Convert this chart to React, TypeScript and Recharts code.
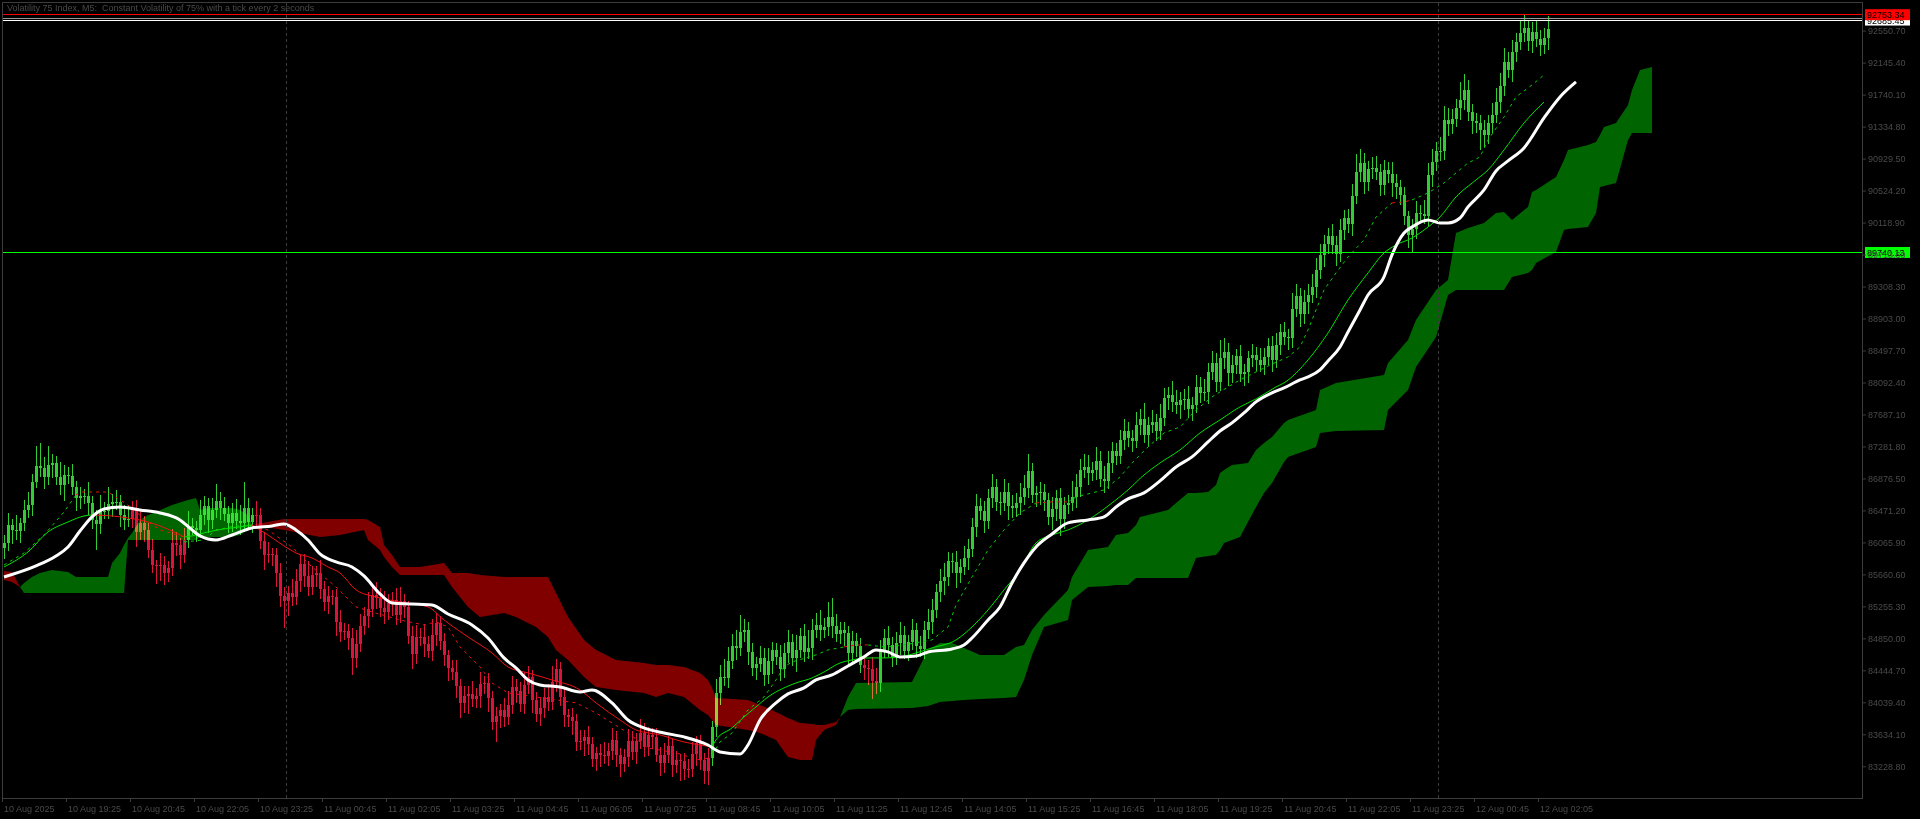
import React from "react";
import { Area, Bar, ComposedChart, Line, ReferenceLine, XAxis, YAxis } from "recharts";

// Volatility 75 Index, M5.
// x is the bar number (0 = 10 Aug 18:05), prices in index points.

const timeTickBars = [0, 16, 32, 48, 64, 80, 96, 112, 128, 144, 160, 176, 192, 208, 224, 240, 256, 272, 288, 304, 320, 336, 352, 368, 384];
const timeTickLabels = [
  "10 Aug 2025", "10 Aug 19:25", "10 Aug 20:45", "10 Aug 22:05", "10 Aug 23:25",
  "11 Aug 00:45", "11 Aug 02:05", "11 Aug 03:25", "11 Aug 04:45", "11 Aug 06:05",
  "11 Aug 07:25", "11 Aug 08:45", "11 Aug 10:05", "11 Aug 11:25", "11 Aug 12:45",
  "11 Aug 14:05", "11 Aug 15:25", "11 Aug 16:45", "11 Aug 18:05", "11 Aug 19:25",
  "11 Aug 20:45", "11 Aug 22:05", "11 Aug 23:25", "12 Aug 00:45", "12 Aug 02:05",
];
const priceTicks = [
  83228.8, 83634.1, 84039.4, 84444.7, 84850.0, 85255.3, 85660.6, 86065.9, 86471.2, 86876.5, 87281.8, 87687.1,
  88092.4, 88497.7, 88903.0, 89308.3, 89713.6, 90118.9, 90524.2, 90929.5, 91334.8, 91740.1, 92145.4, 92550.7,
];

const firstOpen = 85990;
const closes = [
  86059, 86284, 86222, 86210, 86306, 86479, 86536, 86829, 87031, 87004, 86899, 87052, 87074, 86901, 86793, 86918, 86912, 86771, 86623, 86649,
  86656, 86559, 86352, 86302, 86461, 86469, 86554, 86575, 86582, 86409, 86347, 86361, 86489, 86194, 86312, 86217, 85976, 85779, 85772, 85779,
  85677, 85739, 86062, 86028, 85900, 86099, 86270, 86252, 86225, 86419, 86529, 86346, 86474, 86592, 86497, 86430, 86312, 86433, 86331, 86309,
  86499, 86321, 86408, 86412, 86089, 85910, 85922, 85900, 85677, 85392, 85319, 85427, 85376, 85582, 85789, 85634, 85500, 85656, 85682, 85474,
  85305, 85387, 85368, 85054, 84933, 84939, 84857, 84605, 84781, 85008, 85132, 85219, 85397, 85358, 85234, 85179, 85304, 85338, 85152, 85318,
  85252, 84878, 84651, 84870, 84867, 84780, 84695, 84898, 85039, 84812, 84633, 84472, 84425, 84250, 84033, 84120, 84142, 84078, 84117, 84275,
  84279, 84088, 83795, 83867, 83945, 83858, 84001, 84238, 84187, 84018, 84257, 84355, 84068, 83887, 83973, 84107, 84040, 84295, 84463, 84108,
  83881, 83857, 83800, 83538, 83555, 83594, 83505, 83326, 83398, 83372, 83358, 83418, 83566, 83368, 83258, 83350, 83546, 83414, 83545, 83653,
  83475, 83623, 83604, 83378, 83273, 83378, 83488, 83240, 83312, 83293, 83191, 83194, 83385, 83518, 83310, 83166, 83332, 83728, 84159, 84363,
  84352, 84569, 84750, 84727, 84928, 84960, 84683, 84477, 84528, 84604, 84380, 84559, 84697, 84610, 84462, 84665, 84803, 84600, 84708, 84877,
  84683, 84730, 84959, 85014, 84952, 84992, 85125, 85008, 84910, 84952, 84920, 84663, 84817, 84750, 84517, 84476, 84460, 84310, 84280, 84703,
  84857, 84765, 84619, 84797, 84892, 84691, 84807, 84950, 84747, 84715, 84954, 85058, 85214, 85440, 85574, 85624, 85830, 85822, 85682, 85760,
  85866, 85984, 86264, 86524, 86463, 86332, 86634, 86767, 86574, 86563, 86706, 86521, 86504, 86565, 86642, 86754, 86973, 86671, 86687, 86699,
  86599, 86393, 86492, 86628, 86364, 86537, 86569, 86647, 86767, 86989, 87018, 86944, 86981, 87099, 86873, 86846, 87078, 87226, 87162, 87361,
  87484, 87385, 87356, 87556, 87631, 87431, 87549, 87596, 87476, 87644, 87896, 87928, 87851, 87806, 87873, 87880, 87758, 87804, 88036, 87962,
  87971, 88228, 88336, 88100, 88408, 88479, 88215, 88311, 88422, 88196, 88222, 88403, 88445, 88383, 88319, 88418, 88554, 88376, 88565, 88726,
  88675, 88658, 89026, 89185, 88961, 89109, 89205, 89298, 89518, 89712, 89847, 89955, 89833, 89722, 90030, 90179, 90097, 90456, 90761, 90871,
  90633, 90801, 90805, 90756, 90600, 90786, 90734, 90619, 90567, 90473, 90196, 89961, 90040, 90237, 90224, 90199, 90719, 90888, 91028, 91024,
  91416, 91365, 91434, 91575, 91673, 91801, 91522, 91401, 91386, 91292, 91228, 91378, 91483, 91653, 91854, 92154, 92056, 92283, 92408, 92522,
  92585, 92418, 92531, 92446, 92365, 92453, 92573,
];
const upWicks = [
  100, 150, 80, 190, 70, 130, 170, 110, 260, 300, 140, 230, 110, 90, 180, 130, 100, 150, 70, 120,
  90, 170, 100, 130, 200, 110, 210, 100, 150, 80, 130, 180, 100, 120, 160, 90, 100, 130, 70, 150,
  110, 90, 170, 130, 100, 150, 200, 110, 90, 180, 130, 100, 160, 220, 110, 150, 100, 130, 180, 210,
  330, 130, 100, 180, 90, 110, 150, 70, 100, 130, 110, 90, 170, 150, 100, 130, 200, 110, 90, 160,
  100, 130, 70, 110, 150, 100, 90, 130, 180, 150, 110, 220, 100, 170, 130, 210, 110, 100, 150, 180,
  100, 70, 130, 150, 110, 170, 100, 200, 130, 90, 100, 70, 110, 150, 90, 130, 100, 170, 110, 150,
  100, 130, 90, 110, 70, 150, 180, 130, 100, 110, 170, 150, 90, 100, 130, 110, 160, 200, 130, 90,
  100, 70, 110, 90, 130, 100, 150, 90, 70, 110, 170, 100, 150, 110, 90, 100, 160, 130, 110, 180,
  130, 100, 90, 110, 100, 150, 130, 90, 110, 70, 100, 130, 150, 100, 110, 90, 130, 70, 180, 150,
  220, 170, 150, 200, 220, 130, 100, 110, 90, 150, 130, 170, 110, 100, 160, 130, 150, 100, 180, 110,
  150, 220, 130, 160, 200, 110, 180, 240, 150, 100, 110, 90, 130, 100, 110, 90, 100, 150, 170, 130,
  110, 150, 100, 130, 160, 110, 90, 150, 100, 130, 110, 170, 130, 100, 150, 180, 110, 100, 130, 90,
  150, 130, 110, 160, 100, 130, 110, 170, 100, 130, 160, 110, 150, 130, 180, 170, 210, 100, 90, 130,
  110, 90, 150, 100, 130, 110, 100, 200, 160, 130, 170, 150, 110, 180, 130, 160, 150, 110, 100, 130,
  150, 110, 100, 160, 130, 200, 110, 150, 100, 170, 130, 110, 180, 150, 100, 130, 170, 110, 150, 130,
  160, 110, 150, 130, 220, 180, 110, 130, 100, 150, 110, 90, 130, 100, 150, 110, 100, 130, 150, 110,
  130, 100, 200, 150, 110, 160, 130, 170, 150, 130, 110, 100, 150, 110, 130, 100, 110, 150, 230, 180,
  130, 100, 150, 160, 110, 130, 100, 150, 110, 90, 100, 70, 130, 150, 110, 180, 150, 160, 110, 170,
  180, 150, 130, 110, 230, 200, 130, 100, 110, 90, 130, 100, 150, 170, 160, 180, 130, 150, 110, 160,
  165, 90, 130, 150, 110, 130, 165,
];
const downWicks = [
  130, 100, 170, 110, 150, 90, 100, 130, 70, 110, 150, 100, 170, 110, 130, 200, 100, 110, 160, 130,
  100, 150, 110, 330, 130, 100, 110, 170, 100, 150, 130, 90, 110, 190, 100, 150, 110, 100, 230, 200,
  150, 110, 100, 130, 170, 100, 110, 90, 150, 100, 130, 160, 110, 100, 150, 90, 130, 110, 100, 150,
  110, 100, 130, 150, 110, 190, 100, 130, 170, 150, 340, 190, 110, 100, 150, 130, 110, 100, 160, 130,
  110, 150, 100, 170, 130, 110, 150, 220, 130, 100, 110, 150, 100, 130, 110, 150, 100, 170, 130, 110,
  150, 100, 190, 130, 110, 160, 100, 130, 150, 110, 130, 160, 100, 150, 190, 130, 230, 100, 110, 150,
  130, 170, 110, 260, 150, 130, 100, 110, 150, 100, 130, 110, 160, 100, 150, 130, 110, 100, 130, 110,
  150, 130, 170, 110, 100, 200, 130, 110, 160, 150, 100, 130, 110, 150, 170, 100, 130, 110, 150, 100,
  130, 110, 150, 100, 170, 130, 110, 150, 100, 250, 130, 110, 100, 150, 130, 160, 170, 100, 130, 150,
  100, 130, 110, 150, 100, 130, 170, 110, 150, 100, 130, 110, 160, 100, 150, 110, 130, 100, 170, 110,
  130, 100, 150, 110, 130, 100, 110, 150, 100, 130, 170, 150, 110, 130, 100, 150, 200, 230, 130, 110,
  100, 150, 130, 110, 160, 100, 130, 110, 150, 100, 130, 110, 150, 100, 130, 170, 110, 150, 190, 130,
  110, 150, 100, 130, 110, 150, 100, 130, 110, 150, 100, 170, 130, 110, 150, 100, 130, 110, 160, 150,
  130, 110, 170, 150, 220, 130, 110, 100, 150, 130, 110, 150, 100, 130, 110, 150, 100, 130, 110, 100,
  130, 110, 150, 100, 130, 110, 150, 100, 130, 110, 100, 150, 130, 110, 170, 130, 110, 150, 100, 130,
  110, 150, 100, 130, 110, 150, 170, 130, 110, 100, 150, 130, 110, 150, 100, 130, 110, 150, 100, 130,
  110, 150, 130, 110, 170, 130, 150, 100, 130, 110, 150, 130, 110, 150, 100, 130, 110, 150, 100, 130,
  150, 110, 130, 100, 150, 130, 110, 170, 150, 130, 110, 160, 230, 130, 110, 100, 130, 150, 110, 130,
  110, 150, 130, 100, 150, 130, 110, 160, 130, 250, 150, 110, 130, 100, 150, 130, 110, 150, 130, 100,
  110, 130, 150, 100, 130, 110, 150,
];
// bar ranges whose candles are painted in the bearish colour (trend colouring)
const bearRanges = [
  [32, 45],
  [63, 176],
  [215, 218],
];

// thick white moving average [bar, price]
const slowMa = [
  [0, 85628], [8, 85768], [13, 85894], [16, 86008], [19, 86210], [22, 86390], [25, 86490], [29, 86515], [34, 86477],
  [39, 86439], [44, 86351], [47, 86224], [49, 86148], [53, 86097], [57, 86160], [62, 86249], [67, 86275], [70, 86300],
  [73, 86224], [76, 86097], [79, 85920], [83, 85818], [87, 85755], [90, 85641], [94, 85413], [97, 85299], [102, 85286],
  [107, 85273], [111, 85159], [117, 85020], [121, 84855], [125, 84602], [128, 84475], [131, 84323], [134, 84260],
  [139, 84234], [144, 84171], [147, 84196], [152, 84032], [156, 83816], [160, 83715], [165, 83651], [170, 83601],
  [176, 83499], [179, 83411], [184, 83385], [186, 83499], [189, 83816], [193, 84032], [196, 84146], [200, 84222],
  [203, 84323], [207, 84386], [211, 84500], [215, 84615], [218, 84703], [221, 84678], [224, 84615], [228, 84627],
  [231, 84678], [237, 84716], [240, 84767], [242, 84855], [246, 85083], [249, 85248], [252, 85552], [255, 85806],
  [258, 86008], [262, 86173], [266, 86313], [271, 86351], [275, 86389], [278, 86515], [281, 86617], [285, 86693],
  [289, 86845], [293, 87022], [297, 87149], [301, 87339], [304, 87478], [307, 87580], [310, 87706], [313, 87846],
  [317, 87960], [320, 88023], [324, 88125], [326, 88163], [329, 88251], [331, 88365], [334, 88543], [336, 88733],
  [339, 89012], [341, 89202], [345, 89430], [347, 89709], [350, 89987], [352, 90063], [356, 90152], [359, 90114],
  [361, 90114], [364, 90177], [366, 90317], [370, 90532], [373, 90773], [376, 90900], [380, 91065], [385, 91445],
  [389, 91711], [393, 91901],
];

// thin moving average, split where its colour flips
const fastMaUp = [
  [[0, 85755], [6, 85945], [11, 86199], [16, 86325], [20, 86401], [22, 86414]],
  [[45, 86135], [47, 86148], [51, 86199], [55, 86237], [59, 86262], [62, 86287]],
  [
    [177, 83474], [178, 83563], [182, 83715], [185, 83854], [188, 83981], [191, 84108], [195, 84222], [198, 84285],
    [202, 84348], [205, 84424], [209, 84538], [212, 84576], [216, 84602], [220, 84602], [224, 84615], [228, 84665],
    [232, 84729], [238, 84830], [242, 84995], [246, 85210], [250, 85464], [254, 85717], [258, 86059], [262, 86160],
    [266, 86224], [271, 86351], [277, 86566], [281, 86731], [285, 86921], [289, 87073], [294, 87238], [299, 87453],
    [304, 87618], [309, 87783], [313, 87884], [318, 88036], [320, 88087], [326, 88378], [331, 88720], [336, 89138],
    [341, 89481], [345, 89734], [348, 89835], [352, 89924], [356, 90063], [359, 90190], [363, 90444], [368, 90659],
    [371, 90786], [375, 91039], [380, 91381], [385, 91647],
  ],
];
const fastMaDown = [
  [[22, 86414], [27, 86401], [31, 86376], [35, 86338], [39, 86275], [43, 86186], [45, 86135]],
  [
    [62, 86287], [66, 86160], [70, 86021], [73, 85932], [77, 85869], [81, 85755], [84, 85679], [88, 85464],
    [93, 85375], [99, 85311], [106, 85248], [110, 85083], [116, 84868], [122, 84665], [126, 84488], [131, 84412],
    [137, 84323], [144, 84196], [148, 84032], [154, 83816], [158, 83689], [164, 83626], [170, 83537], [174, 83499],
    [177, 83474],
  ],
];

// dotted signal line, split where its colour flips
const signalUp = [
  [[0, 85780], [5, 85932], [10, 86160], [15, 86452], [18, 86667]],
  [[45, 86072], [50, 86097], [53, 86224], [58, 86275], [62, 86275]],
  [[177, 83373], [179, 83537], [182, 83651], [186, 83943], [190, 84108], [193, 84323], [195, 84488], [197, 84551], [203, 84640], [206, 84703], [210, 84741]],
  [[216, 84767], [220, 84741], [225, 84767], [232, 84830], [236, 84995], [238, 85273], [242, 85628], [246, 85970], [250, 86224], [254, 86439], [258, 86566]],
  [
    [266, 86579], [268, 86642], [272, 86693], [275, 86731], [279, 86895], [282, 87073], [286, 87276], [290, 87453],
    [294, 87529], [298, 87744], [302, 87909], [306, 88036], [309, 88125], [313, 88226], [317, 88327], [321, 88416],
    [324, 88543], [326, 88758], [330, 89265], [333, 89481], [336, 89683], [340, 89899], [343, 90190], [347, 90368],
  ],
  [[352, 90406], [356, 90494], [360, 90621], [363, 90748], [366, 90874], [369, 90950], [371, 91166], [375, 91457], [378, 91711], [382, 91863], [385, 91990]],
];
const signalDown = [
  [[18, 86667], [19, 86705], [26, 86705], [29, 86604], [32, 86503], [35, 86363], [39, 86224], [45, 86135]],
  [
    [62, 86275], [66, 86224], [72, 86008], [77, 85755], [83, 85502], [88, 85248], [92, 85185], [99, 85083],
    [105, 85020], [108, 85058], [111, 84995], [114, 84741], [119, 84488], [122, 84285], [126, 84158], [133, 84108],
    [138, 84070], [143, 84032], [148, 83905], [152, 83778], [156, 83651], [159, 83537], [161, 83461], [168, 83398],
    [174, 83309], [177, 83347],
  ],
  [[210, 84741], [213, 84767], [216, 84767]],
  [[258, 86566], [262, 86579], [266, 86579]],
  [[347, 90368], [350, 90380], [352, 90406]],
];

// ichimoku cloud [bar, lower edge, upper edge]
const cloudUp = [
  [
    [4, 85502, 85502], [5, 85425, 85552], [7, 85425, 85628], [9, 85425, 85679], [12, 85425, 85717], [16, 85425, 85692],
    [18, 85425, 85628], [26, 85425, 85628], [27, 85425, 85806], [29, 85425, 85932], [30, 85425, 86034], [31, 86097, 86122],
    [32, 86097, 86186], [34, 86097, 86351], [36, 86097, 86414], [38, 86097, 86452], [42, 86097, 86541], [46, 86097, 86604],
    [48, 86097, 86629], [49, 86135, 86477], [51, 86135, 86503], [57, 86135, 86503], [59, 86160, 86477], [61, 86224, 86414],
    [62, 86287, 86287],
  ],
  [
    [209, 83854, 83854], [211, 83943, 84108], [213, 83956, 84285], [227, 83968, 84298], [231, 83994, 84703], [234, 84044, 84792],
    [237, 84057, 84792], [240, 84070, 84729], [244, 84082, 84640], [250, 84095, 84640], [253, 84108, 84741], [255, 84323, 84767],
    [257, 84640, 84957], [260, 84995, 85147], [266, 85083, 85464], [267, 85337, 85628], [271, 85502, 85970], [276, 85514, 86008],
    [278, 85527, 86160], [281, 85527, 86186], [283, 85616, 86287], [284, 85616, 86389], [291, 85616, 86477], [293, 85616, 86566],
    [296, 85616, 86693], [298, 85869, 86693], [301, 85894, 86705], [303, 85907, 86794], [304, 85970, 86946], [305, 86059, 86984],
    [307, 86097, 87048], [309, 86135, 87060], [311, 86325, 87073], [313, 86515, 87238], [315, 86693, 87326], [317, 86819, 87402],
    [320, 87086, 87580], [321, 87149, 87618], [328, 87276, 87744], [329, 87453, 87998], [333, 87478, 88087], [345, 87491, 88188],
    [346, 87744, 88340], [351, 87998, 88632], [353, 88289, 88885], [358, 88670, 89265], [361, 89202, 89392], [363, 89265, 89987],
    [366, 89265, 90051], [370, 89265, 90114], [373, 89265, 90241], [375, 89265, 90253], [377, 89430, 90152], [381, 89481, 90317],
    [382, 89519, 90507], [383, 89607, 90532], [388, 89747, 90697], [390, 90025, 90912], [391, 90038, 91039], [396, 90063, 91103],
    [398, 90241, 91141], [399, 90570, 91229], [400, 90583, 91331], [403, 90621, 91381], [406, 91166, 91609], [407, 91255, 91800],
    [409, 91255, 92053], [412, 91255, 92091],
  ],
];
const cloudDown = [
  [[0, 85590, 85704], [2, 85565, 85692], [4, 85502, 85502]],
  [
    [62, 86287, 86287], [70, 86224, 86363], [74, 86186, 86363], [79, 86135, 86363], [84, 86160, 86363], [90, 86224, 86363],
    [91, 86097, 86351], [94, 85970, 86262], [95, 85882, 86034], [97, 85755, 85907], [99, 85654, 85755], [104, 85654, 85755],
    [110, 85654, 85806], [112, 85502, 85679], [116, 85248, 85679], [119, 85121, 85654], [125, 85172, 85628], [128, 85121, 85628],
    [133, 84995, 85628], [136, 84868, 85628], [138, 84703, 85425], [141, 84576, 85121], [145, 84361, 84830], [148, 84234, 84703],
    [153, 84196, 84576], [160, 84158, 84538], [163, 84108, 84513], [166, 84158, 84513], [170, 84108, 84488], [174, 83943, 84412],
    [176, 83880, 84323], [177, 83816, 84222], [178, 83753, 84095], [186, 83689, 84070], [189, 83651, 84006], [193, 83563, 83918],
    [196, 83347, 83842], [199, 83309, 83778], [202, 83309, 83765], [203, 83563, 83753], [205, 83689, 83753], [208, 83753, 83791],
    [209, 83854, 83854],
  ],
];

const bidPrice = 92753.34;
const askPrice = 92685.45;
const greyLevel = 92708;
const greenLevel = 89740.13;
const daySeparators = [70.5, 358.5];

const FONT = "'Liberation Sans', Arial, sans-serif";
const TEXT = "#4a4a4a";
const FRAME = "#3c3c3c";
const BULL = "#32cd32";
const BEAR = "#dc143c";

const isBear = (i: number) => bearRanges.some(([a, b]) => i >= a && i <= b);
const candleRows = closes.map((c, i) => {
  const o = i === 0 ? firstOpen : closes[i - 1];
  return { x: i, o, c, h: Math.max(o, c) + upWicks[i], l: Math.min(o, c) - downWicks[i], bear: isBear(i) };
});
const toPts = (seg: number[][]) => seg.map(([x, v]) => ({ x, v }));
const toBand = (seg: number[][]) => seg.map(([x, lo, hi]) => ({ x, band: [lo, hi] }));

const Candle = (props: any) => {
  const { x, y, width, height, payload } = props;
  if (x == null || !payload) return null;
  const top = Math.min(y, y + height);
  const bottom = Math.max(y, y + height);
  const k = (bottom - top) / (payload.h - payload.l || 1);
  const mid = Math.round(x + width / 2);
  const yo = top + (payload.h - payload.o) * k;
  const yc = top + (payload.h - payload.c) * k;
  const color = payload.bear ? BEAR : BULL;
  return (
    <g shapeRendering="crispEdges">
      <rect x={mid} y={top} width={1} height={bottom - top} fill={color} />
      <rect x={mid - 1} y={Math.min(yo, yc)} width={3} height={Math.max(1, Math.abs(yc - yo))} fill={color} />
    </g>
  );
};

const TimeTick = (props: any) => {
  const { x, y, payload } = props;
  const label = timeTickLabels[timeTickBars.indexOf(payload.value)];
  const edge = Math.round(x - 2);
  return (
    <g>
      <line x1={edge + 0.5} x2={edge + 0.5} y1={y} y2={y + 4} stroke={FRAME} />
      <text x={edge + 2} y={y + 14} fill={TEXT} fontSize={9} fontFamily={FONT}>
        {label}
      </text>
    </g>
  );
};

const PriceTick = (props: any) => {
  const { x, y, payload } = props;
  return (
    <g>
      <line x1={x} x2={x + 4} y1={y + 0.5} y2={y + 0.5} stroke={FRAME} />
      <text x={x + 6} y={y + 3.5} fill={TEXT} fontSize={9} fontFamily={FONT}>
        {Number(payload.value).toFixed(2)}
      </text>
    </g>
  );
};

const priceTag = (value: number, bg: string) => (props: any) => {
  const vb = props.viewBox;
  if (!vb) return null;
  const x = vb.x + vb.width + 3;
  return (
    <g>
      <rect x={x} y={vb.y - 5.5} width={45} height={11} fill={bg} />
      <text x={x + 2} y={vb.y + 3.5} fill="#000" fontSize={9} fontFamily={FONT}>
        {value.toFixed(2)}
      </text>
    </g>
  );
};

export default function App() {
  return (
    <div style={{ position: "fixed", left: 0, top: 0, width: 1920, height: 819, background: "#000", overflow: "hidden" }}>
      <style>{".candles, .recharts-bar { mix-blend-mode: screen; }"}</style>
      <ComposedChart width={1920} height={819} data={candleRows} margin={{ top: 2, right: 0, bottom: 0, left: 2 }}>
        <XAxis
          dataKey="x"
          type="number"
          domain={[-0.5, 464.5]}
          ticks={timeTickBars}
          interval={0}
          tick={<TimeTick />}
          tickLine={false}
          axisLine={false}
          tickSize={0}
          tickMargin={0}
          height={21}
          allowDataOverflow
        />
        <YAxis
          orientation="right"
          type="number"
          domain={[82827, 92914]}
          ticks={priceTicks}
          interval={0}
          tick={<PriceTick />}
          tickLine={false}
          axisLine={false}
          tickSize={0}
          tickMargin={0}
          width={58}
          allowDataOverflow
        />
        {cloudUp.map((seg, i) => (
          <Area key={"cu" + i} data={toBand(seg)} dataKey="band" type="linear" stroke="none" fill="#006400" fillOpacity={1} dot={false} activeDot={false} isAnimationActive={false} />
        ))}
        {cloudDown.map((seg, i) => (
          <Area key={"cd" + i} data={toBand(seg)} dataKey="band" type="linear" stroke="none" fill="#800000" fillOpacity={1} dot={false} activeDot={false} isAnimationActive={false} />
        ))}
        <Bar dataKey={(d: any) => [d.l, d.h]} barSize={3} shape={<Candle />} className="candles" isAnimationActive={false} />
        {signalUp.map((seg, i) => (
          <Line key={"su" + i} data={toPts(seg)} dataKey="v" type="linear" stroke="#00d000" strokeWidth={1} strokeDasharray="3 4" dot={false} activeDot={false} isAnimationActive={false} />
        ))}
        {signalDown.map((seg, i) => (
          <Line key={"sd" + i} data={toPts(seg)} dataKey="v" type="linear" stroke="#ee1111" strokeWidth={1} strokeDasharray="3 4" dot={false} activeDot={false} isAnimationActive={false} />
        ))}
        {fastMaUp.map((seg, i) => (
          <Line key={"fu" + i} data={toPts(seg)} dataKey="v" type="monotone" stroke="#00e000" strokeWidth={1} dot={false} activeDot={false} isAnimationActive={false} />
        ))}
        {fastMaDown.map((seg, i) => (
          <Line key={"fd" + i} data={toPts(seg)} dataKey="v" type="monotone" stroke="#ee1111" strokeWidth={1} dot={false} activeDot={false} isAnimationActive={false} />
        ))}
        <Line data={toPts(slowMa)} dataKey="v" type="monotone" stroke="#ffffff" strokeWidth={3} dot={false} activeDot={false} isAnimationActive={false} />
        {daySeparators.map((b) => (
          <ReferenceLine key={"sep" + b} x={b} stroke={FRAME} strokeDasharray="3 3" shapeRendering="crispEdges" />
        ))}
        <ReferenceLine y={greenLevel} stroke="#00ff00" shapeRendering="crispEdges" label={priceTag(greenLevel, "#00ff00")} />
        <ReferenceLine y={greyLevel} stroke="#9a9a9a" shapeRendering="crispEdges" />
        <ReferenceLine y={askPrice} stroke="#ffffff" shapeRendering="crispEdges" label={priceTag(askPrice, "#ffffff")} />
        <ReferenceLine y={bidPrice} stroke="#ff0000" shapeRendering="crispEdges" label={priceTag(bidPrice, "#ff0000")} />
      </ComposedChart>
      <div
        style={{
          position: "absolute",
          left: 2,
          top: 2,
          width: 1861,
          height: 797,
          boxSizing: "border-box",
          border: `1px solid ${FRAME}`,
          pointerEvents: "none",
        }}
      />
      <div
        style={{
          position: "absolute",
          left: 7,
          top: 3,
          fontFamily: FONT,
          fontSize: 9,
          lineHeight: "11px",
          color: TEXT,
          whiteSpace: "pre",
        }}
      >
        {"Volatility 75 Index, M5:  Constant Volatility of 75% with a tick every 2 seconds"}
      </div>
    </div>
  );
}
